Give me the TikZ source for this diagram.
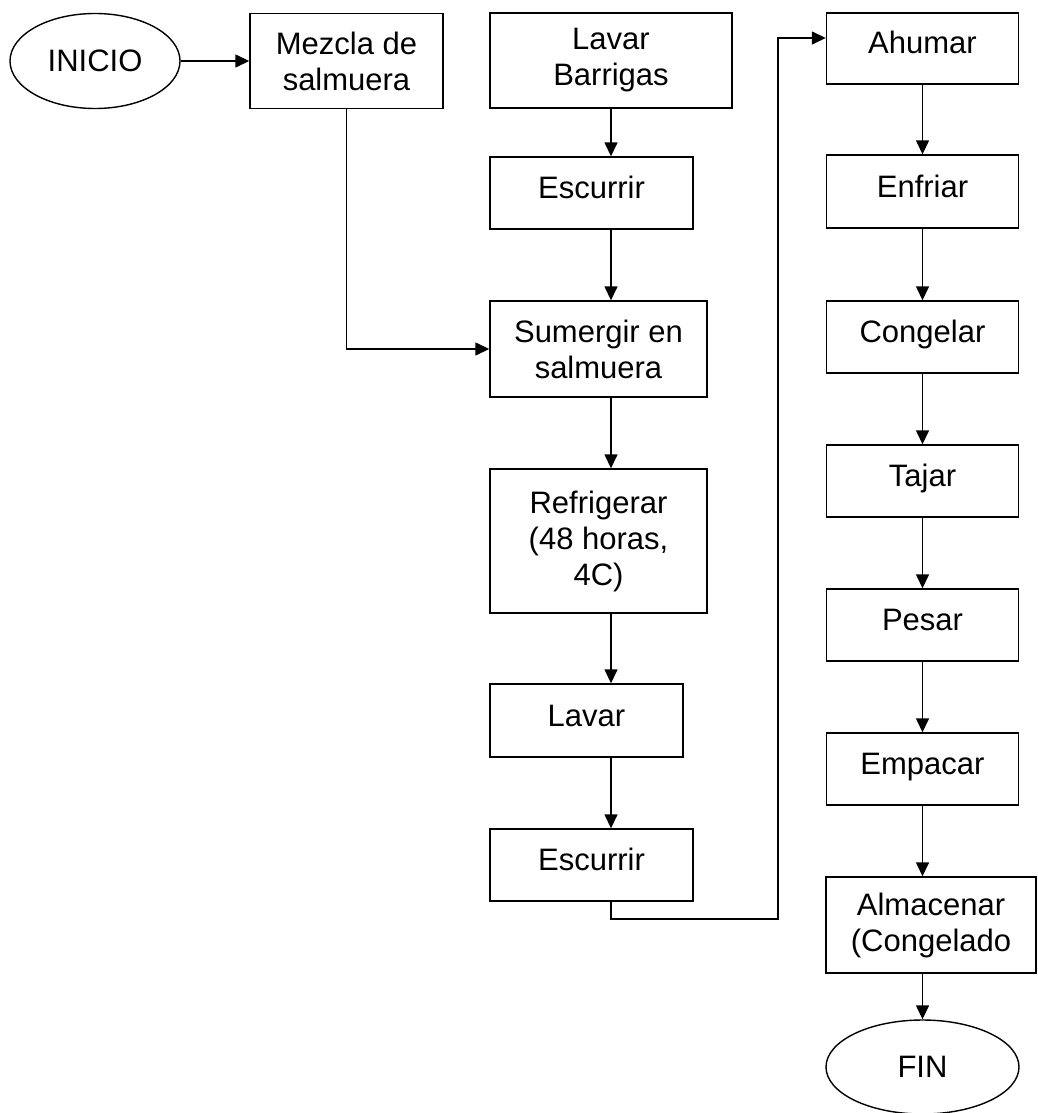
\documentclass[tikz,border=0pt]{standalone}
\usepackage{fontspec}
\setmainfont{Liberation Sans}
\usetikzlibrary{arrows.meta,shapes.geometric}
\begin{document}
\begin{tikzpicture}[x=1pt,y=-1pt,
  font=\fontsize{31}{36}\selectfont,
  box/.style={draw, line width=1.4pt, align=center, inner sep=0pt},
  onebox/.style={box, text height=22pt, text depth=11pt},
  oval/.style={draw, line width=1.4pt, ellipse, inner sep=0pt},
  arr/.style={draw, line width=1.4pt, -{Triangle[length=14pt,width=13pt]}}]
\useasboundingbox (0,0) rectangle (1037,1113);
% column x positions for arrows
\coordinate (c2) at (611,0);
\coordinate (c3) at (922.5,0);
\coordinate (bend) at (778,919);
% start
\node[oval, minimum width=170pt, minimum height=95pt] (ini) at (95,61) {INICIO};
\node[box, minimum width=193pt, minimum height=95pt] (mz) at (346.5,61) {Mezcla de\\salmuera};
% column 2
\node[box, minimum width=242pt, minimum height=95pt] (lb) at (611,60.5) {Lavar\\Barrigas};
\node[onebox, minimum width=203pt, minimum height=72pt] (e1) at (591.5,193) {Escurrir};
\node[box, minimum width=217pt, minimum height=96pt] (su) at (598.5,349) {Sumergir en\\salmuera};
\node[box, minimum width=217pt, minimum height=144pt] (re) at (598.5,541) {Refrigerar\\(48 horas,\\4C)};
\node[onebox, minimum width=193pt, minimum height=73pt] (la) at (586.5,720.5) {Lavar};
\node[onebox, minimum width=203pt, minimum height=72pt] (e2) at (591.5,865) {Escurrir};
% column 3
\node[onebox, minimum width=192pt, minimum height=71pt] (ah) at (922.5,48.5) {Ahumar};
\node[onebox, minimum width=192pt, minimum height=73pt] (en) at (922.5,191.5) {Enfriar};
\node[onebox, minimum width=192pt, minimum height=72pt] (co) at (922.5,337) {Congelar};
\node[onebox, minimum width=192pt, minimum height=72pt] (ta) at (922.5,481) {Tajar};
\node[onebox, minimum width=192pt, minimum height=72pt] (pe) at (922.5,625) {Pesar};
\node[onebox, minimum width=192pt, minimum height=72pt] (em) at (922.5,769) {Empacar};
\node[box, minimum width=210pt, minimum height=96pt] (al) at (931,925) {Almacenar\\(Congelado};
\node[oval, minimum width=193pt, minimum height=94pt] (fin) at (922.5,1067) {FIN};
% connectors
\draw[arr] (ini.east) -- (mz.west);
\draw[arr] (mz.south) |- (su.west);
\draw[arr] (lb.south -| c2) -- (e1.north -| c2);
\draw[arr] (e1.south -| c2) -- (su.north -| c2);
\draw[arr] (su.south -| c2) -- (re.north -| c2);
\draw[arr] (re.south -| c2) -- (la.north -| c2);
\draw[arr] (la.south -| c2) -- (e2.north -| c2);
\draw[arr] (e2.south -| c2) |- (bend) |- ([yshift=10.5pt]ah.west);
\draw[arr] (ah.south) -- (en.north);
\draw[arr] (en.south) -- (co.north);
\draw[arr] (co.south) -- (ta.north);
\draw[arr] (ta.south) -- (pe.north);
\draw[arr] (pe.south) -- (em.north);
\draw[arr] (em.south) -- (al.north -| c3);
\draw[arr] (al.south -| c3) -- (fin.north);
\end{tikzpicture}
\end{document}
